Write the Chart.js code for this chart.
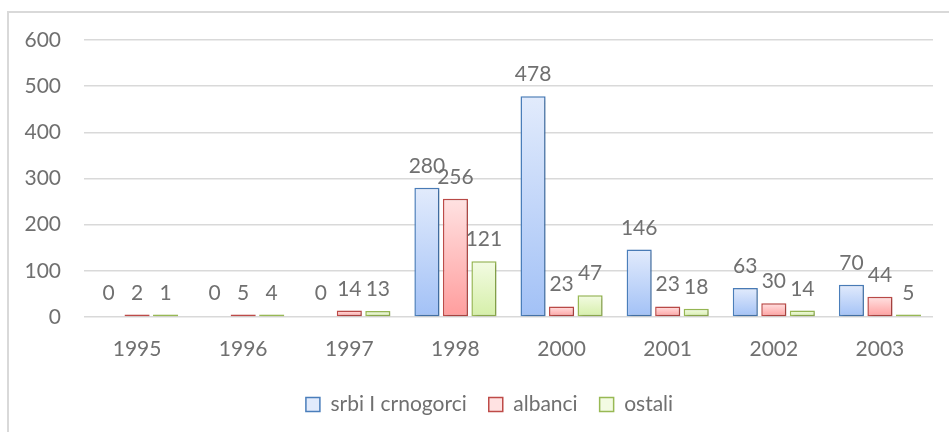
<!DOCTYPE html>
<html lang="sr">
<head>
    <meta charset="UTF-8">
    <title>srbi I crnogorci / albanci / ostali</title>
    <script src="https://cdn.jsdelivr.net/npm/chart.js@4.4.1/dist/chart.umd.min.js"></script>
    <style>
        body {
            margin: 0;
            padding: 0;
            background: #ffffff;
            overflow: hidden;
        }
        .frame {
            position: absolute;
            left: 7px;
            top: 11px;
            width: 980px;
            height: 460px;
            border: 2px solid #d9d9d9;
        }
        .chart-box {
            position: absolute;
            left: 0;
            top: 0;
            width: 949px;
            height: 432px;
        }
    </style>
</head>
<body>
    <div class="frame"></div>
    <div class="chart-box">
        <canvas id="popChart"></canvas>
    </div>

    <script>
        // data
        const years = ['1995', '1996', '1997', '1998', '2000', '2001', '2002', '2003'];
        const srbi = [0, 0, 0, 280, 478, 146, 63, 70];
        const albanci = [2, 5, 14, 256, 23, 23, 30, 44];
        const ostali = [1, 4, 13, 121, 47, 18, 14, 5];
        const yTicks = [0, 100, 200, 300, 400, 500, 600];

        const FONT = 'Lato, "Open Sans", sans-serif';
        const FONT_SIZE = 21;
        const TEXT = '#707070';

        // top / bottom colour of each bar gradient, plus border colour
        const palette = {
            blue:  { top: '#e2ebfc', bottom: '#a2c1f6', line: '#4a7ebb' },
            red:   { top: '#ffe2e2', bottom: '#ff9d9d', line: '#be4b48' },
            green: { top: '#f3fbe3', bottom: '#d5efa8', line: '#98b954' }
        };

        // vertical gradient per bar, light at the top
        function barFill(colors) {
            return function (ctx) {
                if (ctx.type !== 'data') return colors.bottom;
                if (ctx.raw === 0) return 'rgba(0,0,0,0)';
                const chart = ctx.chart;
                const yScale = chart.scales.y;
                if (!yScale) return colors.bottom;
                const top = yScale.getPixelForValue(ctx.raw);
                const base = yScale.getPixelForValue(0);
                if (!isFinite(top) || !isFinite(base) || base - top < 4) return colors.bottom;
                const g = chart.ctx.createLinearGradient(0, top, 0, base);
                g.addColorStop(0, colors.top);
                g.addColorStop(1, colors.bottom);
                return g;
            };
        }

        function barLine(colors) {
            return function (ctx) {
                if (ctx.type === 'data' && ctx.raw === 0) return 'rgba(0,0,0,0)';
                return colors.line;
            };
        }

        // value labels above the bars
        const valueLabels = {
            id: 'valueLabels',
            afterDatasetsDraw(chart) {
                const ctx = chart.ctx;
                const base = chart.scales.y.getPixelForValue(0);
                ctx.save();
                ctx.font = FONT_SIZE + 'px ' + FONT;
                ctx.fillStyle = TEXT;
                ctx.textAlign = 'center';
                ctx.textBaseline = 'alphabetic';
                chart.data.datasets.forEach((ds, i) => {
                    const meta = chart.getDatasetMeta(i);
                    meta.data.forEach((bar, j) => {
                        const top = Math.min(bar.y, base - 1);
                        ctx.fillText(String(ds.data[j]), bar.x, top - 15);
                    });
                });
                ctx.restore();
            }
        };

        // soft shadow right of the bars
        const barShadow = {
            id: 'barShadow',
            beforeDatasetsDraw(chart) {
                const ctx = chart.ctx;
                ctx.save();
                ctx.shadowColor = 'rgba(0, 0, 0, 0.2)';
                ctx.shadowBlur = 3;
                ctx.shadowOffsetX = 2;
                ctx.shadowOffsetY = 1;
            },
            afterDatasetsDraw(chart) {
                chart.ctx.restore();
            }
        };

        // Excel centres the legend a little to the right
        const legendShift = {
            id: 'legendShift',
            afterLayout(chart) {
                if (chart.legend) {
                    chart.legend.left += 23;
                    chart.legend.right += 23;
                }
            }
        };

        function makeSet(label, data, colors) {
            return {
                label: label,
                data: data,
                backgroundColor: barFill(colors),
                borderColor: barLine(colors),
                borderWidth: 1.5,
                borderSkipped: false,
                minBarLength: 2.5,
                categoryPercentage: 0.806,
                barPercentage: 0.88,
                legendFill: colors.top,
                legendLine: colors.line
            };
        }

        const popCtx = document.getElementById('popChart').getContext('2d');
        new Chart(popCtx, {
            type: 'bar',
            data: {
                labels: years,
                datasets: [
                    makeSet('srbi I crnogorci', srbi, palette.blue),
                    makeSet('albanci', albanci, palette.red),
                    makeSet('ostali', ostali, palette.green)
                ]
            },
            options: {
                responsive: true,
                maintainAspectRatio: false,
                animation: false,
                layout: {
                    padding: { top: 40, right: 16, left: 0, bottom: 7 }
                },
                scales: {
                    x: {
                        grid: { display: false },
                        border: { display: false },
                        ticks: {
                            color: TEXT,
                            padding: 12,
                            font: { family: FONT, size: FONT_SIZE }
                        },
                        afterFit(scale) { scale.height = 55; }
                    },
                    y: {
                        min: 0,
                        max: 600,
                        afterBuildTicks(scale) {
                            scale.ticks = yTicks.map(v => ({ value: v }));
                        },
                        grid: {
                            color: '#d9d9d9',
                            lineWidth: 1.5,
                            drawTicks: false
                        },
                        border: { display: false },
                        ticks: {
                            color: TEXT,
                            padding: 23,
                            font: { family: FONT, size: FONT_SIZE }
                        },
                        afterFit(scale) { scale.width = 84; }
                    }
                },
                plugins: {
                    legend: {
                        position: 'bottom',
                        labels: {
                            color: TEXT,
                            font: { family: FONT, size: FONT_SIZE },
                            boxWidth: 14,
                            boxHeight: 14,
                            padding: 22,
                            generateLabels(chart) {
                                return chart.data.datasets.map((ds, i) => ({
                                    text: ds.label,
                                    fillStyle: ds.legendFill,
                                    strokeStyle: ds.legendLine,
                                    lineWidth: 1.5,
                                    fontColor: TEXT,
                                    hidden: false,
                                    datasetIndex: i
                                }));
                            }
                        }
                    },
                    tooltip: { enabled: false }
                }
            },
            plugins: [barShadow, valueLabels, legendShift]
        });
    </script>
</body>
</html>
